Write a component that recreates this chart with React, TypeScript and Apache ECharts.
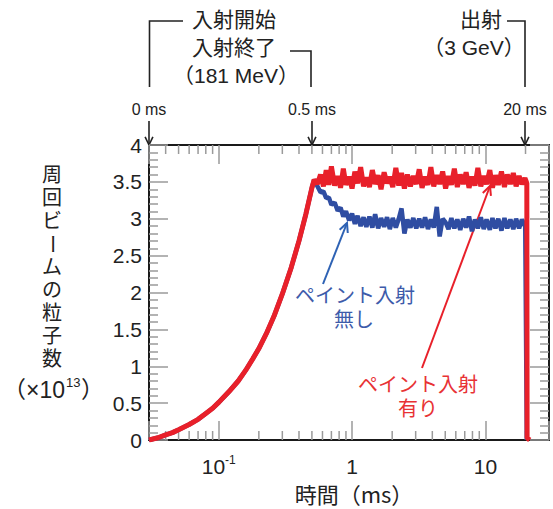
import React, { useEffect, useRef } from 'react';
import * as echarts from 'echarts';

// ---- data ----
// injection ramp, shared by both curves (time in ms on the log axis)
const rampTime = [0.03, 0.035, 0.04, 0.045, 0.05, 0.06, 0.07, 0.08, 0.09, 0.1, 0.12, 0.14, 0.16, 0.18, 0.2, 0.23, 0.26, 0.3, 0.35, 0.4, 0.45, 0.5, 0.52];
const rampValue = [0, 0.03, 0.07, 0.1, 0.14, 0.21, 0.28, 0.36, 0.43, 0.51, 0.66, 0.8, 0.95, 1.1, 1.24, 1.46, 1.68, 1.98, 2.34, 2.7, 3.06, 3.42, 3.53];

// after injection
const flatTime = [
  0.55, 0.58, 0.61, 0.64, 0.67, 0.7, 0.74, 0.78, 0.82, 0.86,
  0.9, 0.95, 1.0, 1.05, 1.1, 1.16, 1.22, 1.28, 1.35, 1.42,
  1.49, 1.57, 1.65, 1.74, 1.83, 1.92, 2.02, 2.13, 2.24, 2.35,
  2.47, 2.6, 2.74, 2.88, 3.03, 3.19, 3.35, 3.53, 3.71, 3.9,
  4.1, 4.32, 4.54, 4.78, 5.03, 5.29, 5.56, 5.85, 6.16, 6.48,
  6.82, 7.17, 7.54, 7.93, 8.35, 8.78, 9.24, 9.72, 10.2, 10.8,
  11.3, 11.9, 12.5, 13.2, 13.9, 14.6, 15.4, 16.2, 17.0, 17.9,
  18.8, 19.8,
];
const paintOnFlat = [
  3.47, 3.6, 3.44, 3.66, 3.46, 3.71, 3.45, 3.58, 3.42, 3.68,
  3.46, 3.57, 3.41, 3.64, 3.48, 3.7, 3.44, 3.56, 3.43, 3.66,
  3.47, 3.59, 3.4, 3.63, 3.48, 3.57, 3.43, 3.69, 3.45, 3.62,
  3.41, 3.6, 3.44, 3.58, 3.47, 3.67, 3.42, 3.57, 3.46, 3.7,
  3.44, 3.59, 3.47, 3.64, 3.41, 3.58, 3.46, 3.68, 3.43, 3.6,
  3.47, 3.63, 3.42, 3.57, 3.45, 3.69, 3.44, 3.58, 3.47, 3.66,
  3.42, 3.59, 3.46, 3.64, 3.43, 3.6, 3.47, 3.62, 3.44, 3.58,
  3.47, 3.55,
];
const paintOffFlat = [
  3.44, 3.36, 3.37, 3.28, 3.29, 3.19, 3.22, 3.11, 3.15, 3.03,
  3.1, 2.98, 3.07, 2.93, 3.04, 2.9, 3.02, 2.89, 3.03, 2.88,
  3.06, 2.87, 3.01, 2.89, 3.02, 2.86, 3.01, 2.88, 3.0, 3.14,
  2.8, 2.99, 2.88, 3.01, 2.87, 3.0, 2.88, 3.02, 2.86, 2.99,
  2.88, 3.16, 2.76, 3.0, 2.95, 2.86, 3.01, 2.87, 2.99, 2.85,
  3.0, 2.88, 3.03, 2.83, 2.99, 2.87, 3.02, 2.86, 2.99, 2.85,
  3.01, 2.87, 3.0, 2.84, 3.01, 2.87, 2.99, 2.86, 3.0, 2.87,
  2.99, 2.9,
];
// extraction
const paintOnEndTime = [20.3, 20.45, 20.55, 21.5];
const paintOnEndValue = [3.5, 3.48, 0.03, 0];
const paintOffEndTime = [19.9, 20.45];
const paintOffEndValue = [2.92, 0];

const xMinorTicks = [0.04, 0.05, 0.06, 0.07, 0.08, 0.09, 0.2, 0.3, 0.4, 0.5, 0.6, 0.7, 0.8, 0.9, 2, 3, 4, 5, 6, 7, 8, 9, 20];
const yTitleTop = '周\n回\nビ';
const yTitleDash = 'ー';
const yTitleBottom = 'ム\nの\n粒\n子\n数';

const RED = '#E8202A';
const BLUE = '#2F4DA2';
const RED_TEXT = '#E83234';
const BLUE_TEXT = '#3D5BAA';
const LATIN = "'Liberation Sans', 'Noto Sans CJK JP', sans-serif";
const CJK = "'Noto Sans CJK JP', 'Liberation Sans', sans-serif";

function pairs(t: number[], v: number[]) {
  return t.map((x, i) => [x, v[i]]);
}

function arrow(x1: number, y1: number, x2: number, y2: number, color: string, w: number, head: number) {
  const a = Math.atan2(y2 - y1, x2 - x1);
  const s = 0.45;
  const p1 = [x2 - head * Math.cos(a - s), y2 - head * Math.sin(a - s)];
  const p2 = [x2 - head * Math.cos(a + s), y2 - head * Math.sin(a + s)];
  return [
    { type: 'line', shape: { x1, y1, x2, y2 }, style: { stroke: color, lineWidth: w }, silent: true },
    { type: 'polyline', shape: { points: [p1, [x2, y2], p2] }, style: { stroke: color, lineWidth: w, fill: null }, silent: true },
  ];
}

function txt(text: string, x: number, y: number, size: number, color: string, family: string, align = 'center', lineHeight?: number) {
  const style: any = {
    text, x, y, fill: color, font: `${size}px ${family}`, fontSize: size, fontFamily: family,
    align, verticalAlign: 'middle', textAlign: align, textVerticalAlign: 'middle',
  };
  if (lineHeight) style.lineHeight = lineHeight;
  return { type: 'text', style, silent: true };
}

export default function App() {
  const ref = useRef<HTMLDivElement>(null);

  useEffect(() => {
    if (!ref.current) return;
    const chart = echarts.init(ref.current, null, { renderer: 'svg' });

    const redData = [...pairs(rampTime, rampValue), ...pairs(flatTime, paintOnFlat), ...pairs(paintOnEndTime, paintOnEndValue)];
    const blueData = [...pairs(rampTime, rampValue), ...pairs(flatTime, paintOffFlat), ...pairs(paintOffEndTime, paintOffEndValue)];

    const axisLine = { show: true, onZero: false, lineStyle: { color: '#1a1a1a', width: 2 } };
    const tickStyle = { color: '#9a9a9a', width: 1.5 };

    const xBase = {
      type: 'log', logBase: 10, min: 0.03, max: 30,
      axisLine, splitLine: { show: false },
      axisTick: { show: true, inside: true, length: 19, lineStyle: tickStyle },
    };
    const yBase = {
      type: 'value', min: 0, max: 4, interval: 0.5,
      axisLine, splitLine: { show: false },
      axisTick: { show: true, inside: true, length: 19, lineStyle: tickStyle },
      minorTick: { show: true, splitNumber: 5, length: 9, lineStyle: tickStyle },
      minorSplitLine: { show: false },
    };

    const step = 23;
    const top = 175;
    const graphics: any[] = [
      txt(yTitleTop, 52, top + step, 20, '#222', LATIN, 'center', step),
      { type: 'text', x: 52, y: top + 3 * step, rotation: -Math.PI / 2, silent: true,
        style: { text: yTitleDash, x: 0, y: 0, font: `20px ${LATIN}`, fontSize: 20, fontFamily: LATIN, fill: '#222',
          align: 'center', verticalAlign: 'middle', textAlign: 'center', textVerticalAlign: 'middle' } },
      txt(yTitleBottom, 52, top + 6 * step, 20, '#222', LATIN, 'center', step),
      txt('（×10', 65, 390, 23, '#222', LATIN, 'right'),
      txt('13', 66, 382, 13, '#222', LATIN, 'left'),
      txt('）', 81, 390, 23, '#222', LATIN, 'left'),
      txt('時間（ms）', 354, 493, 22, '#222', CJK),
      // top annotations
      txt('入射開始', 192, 19, 21, '#222', LATIN, 'left'),
      txt('入射終了', 192, 47, 21, '#222', LATIN, 'left'),
      txt('（181 MeV）', 236, 75, 21, '#222', LATIN),
      txt('出射', 460, 19, 21, '#222', LATIN, 'left'),
      txt('（3 GeV）', 474, 47, 21, '#222', LATIN),
      { type: 'polyline', silent: true, shape: { points: [[149.5, 87], [149.5, 21], [183, 21]] }, style: { stroke: '#222', lineWidth: 1.6, fill: null } },
      { type: 'polyline', silent: true, shape: { points: [[290, 51], [311, 51], [311, 87]] }, style: { stroke: '#222', lineWidth: 1.6, fill: null } },
      { type: 'polyline', silent: true, shape: { points: [[507, 21], [525, 21], [525, 87]] }, style: { stroke: '#222', lineWidth: 1.6, fill: null } },
      txt('0 ms', 149, 109, 16, '#222', LATIN),
      txt('0.5 ms', 312, 109, 16, '#222', LATIN),
      txt('20 ms', 525, 109, 16, '#222', LATIN),
      ...arrow(149, 121, 149, 145, '#222', 1.6, 9),
      ...arrow(312, 121, 312, 145, '#222', 1.6, 9),
      ...arrow(525, 121, 525, 145, '#222', 1.6, 9),
      // in-plot annotations
      txt('ペイント入射', 355, 296, 20, BLUE_TEXT, LATIN),
      txt('無し', 354, 320, 20, BLUE_TEXT, LATIN),
      ...arrow(323, 284, 347, 223, '#2E62B4', 2, 10),
      txt('ペイント入射', 418, 385, 20, RED_TEXT, LATIN),
      txt('有り', 418, 409, 20, RED_TEXT, LATIN),
      ...arrow(422, 368, 490, 186, RED, 2, 10),
    ];

    chart.setOption({
      animation: false,
      backgroundColor: '#ffffff',
      grid: { left: 149, right: 4, top: 145, bottom: 69, containLabel: false },
      xAxis: [
        {
          ...xBase, position: 'bottom',
          axisLabel: {
            margin: 14,
            formatter: (v: number) => {
              if (Math.abs(v - 0.1) < 1e-9) return '{b|10}{s|-1}';
              if (Math.abs(v - 1) < 1e-9) return '{b|1}';
              if (Math.abs(v - 10) < 1e-9) return '{b|10}';
              return '';
            },
            rich: {
              b: { fontSize: 21, fontFamily: LATIN, color: '#222', lineHeight: 24 },
              s: { fontSize: 12, fontFamily: LATIN, color: '#222', verticalAlign: 'top' },
            },
          },
        },
        { ...xBase, position: 'top', axisLabel: { show: false } },
      ],
      yAxis: [
        {
          ...yBase, position: 'left',
          axisLabel: { margin: 7, fontSize: 21, fontFamily: LATIN, color: '#222' },
        },
        { ...yBase, position: 'right', axisLabel: { show: false } },
      ],
      series: [
        {
          type: 'custom', name: 'minor', coordinateSystem: 'cartesian2d', xAxisIndex: 0, yAxisIndex: 0,
          silent: true, clip: false, z: 1,
          data: xMinorTicks.map((v) => [v, 0]),
          renderItem: (_p: any, api: any) => {
            const v = api.value(0);
            const b = api.coord([v, 0]);
            const t = api.coord([v, 4]);
            const style = { stroke: '#9a9a9a', lineWidth: 1.5 };
            return {
              type: 'group',
              children: [
                { type: 'line', shape: { x1: b[0], y1: b[1], x2: b[0], y2: b[1] - 9 }, style },
                { type: 'line', shape: { x1: t[0], y1: t[1], x2: t[0], y2: t[1] + 9 }, style },
              ],
            };
          },
        },
        {
          type: 'line', name: 'ペイント入射無し', data: blueData, showSymbol: false, symbol: 'none',
          lineStyle: { color: BLUE, width: 4.5 }, z: 3,
        },
        {
          type: 'line', name: 'ペイント入射有り', data: redData, showSymbol: false, symbol: 'none',
          lineStyle: { color: RED, width: 5 }, z: 4,
        },
      ],
      graphic: { elements: graphics },
    });

    return () => chart.dispose();
  }, []);

  return <div ref={ref} style={{ position: 'fixed', left: 0, top: 0, width: 553, height: 509 }} />;
}
